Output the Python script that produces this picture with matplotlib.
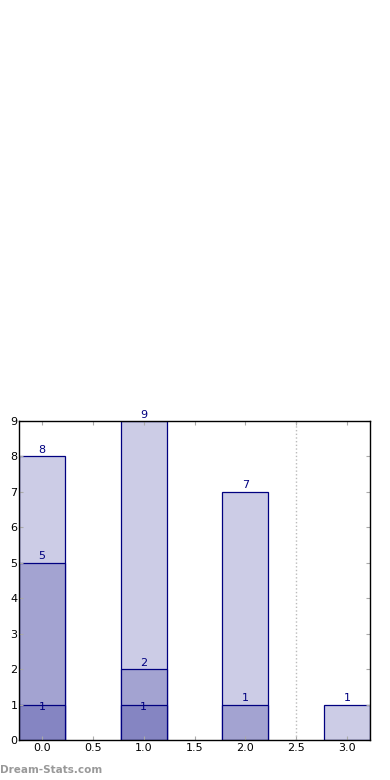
import matplotlib
matplotlib.use("Agg")
import matplotlib.pyplot as plt

# data
positions = [0, 1, 2, 3]
outer = [8, 9, 7, 1]
middle = [5, 2, 1, 0]
inner = [1, 1, 0, 0]
xticks = [0.0, 0.5, 1.0, 1.5, 2.0, 2.5, 3.0]
yticks = list(range(10))

fig = plt.figure(figsize=(3.9, 7.8), dpi=100)
ax = fig.add_axes([19 / 390, 40 / 780, 351 / 390, 319 / 780])

edge = "#000080"
series = [(outer, "#ccccE6", 1), (middle, "#a3a3d1", 1), (inner, "#8585c2", -5)]
for vals, col, off in series:
    for x, v in zip(positions, vals):
        if v <= 0:
            continue
        ax.bar(x, v, width=0.45, color=col, edgecolor=edge, linewidth=0.9)
        ax.annotate(str(v), (x, v), xytext=(0, off), textcoords="offset points",
                    ha="center", va="bottom", color=edge, fontsize=8)

ax.axvline(2.5, color="#bbbbbb", linestyle=":", linewidth=1)

ax.set_xlim(-0.225, 3.225)
ax.set_ylim(0, 9)
ax.set_xticks(xticks)
ax.set_xticklabels(["%.1f" % t for t in xticks])
ax.set_yticks(yticks)
ax.tick_params(direction="in", color="#aaaaaa", labelsize=8, length=3,
               top=True, right=True, pad=2)
ax.tick_params(axis="y", pad=1)
for s in ax.spines.values():
    s.set_color("black")
    s.set_linewidth(1)

fig.text(0.0, 10 / 780, "Dream-Stats.com", color="#999999", fontsize=7.5,
         fontweight="bold", ha="left", va="center")

fig.savefig("out.png", dpi=100)
